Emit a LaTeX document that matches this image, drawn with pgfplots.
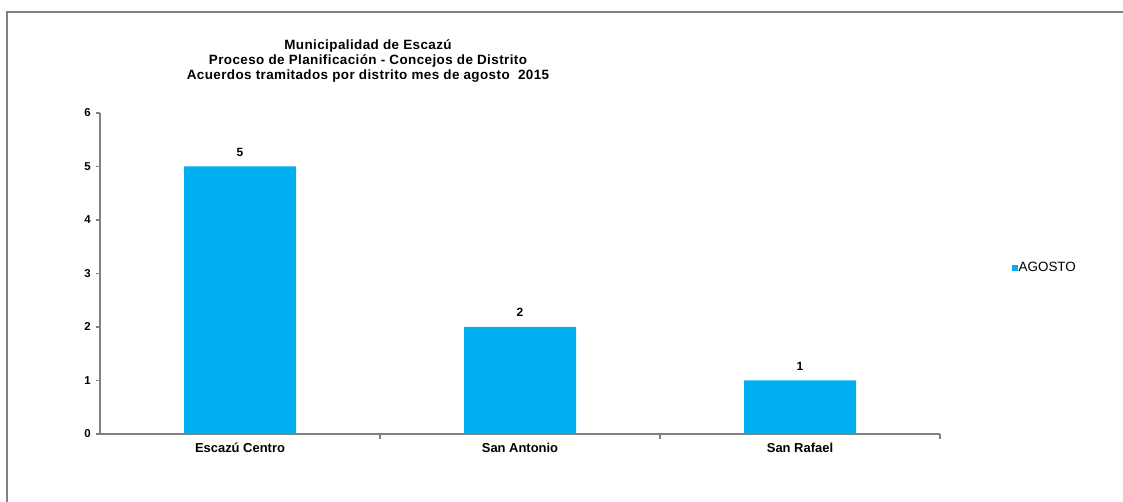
\documentclass[border=0pt]{standalone}
\usepackage{fontspec}
\setmainfont{Liberation Sans}
\newfontfamily\titlefont[LetterSpace=3]{Liberation Sans}
\usepackage{pgfplots}
\pgfplotsset{compat=1.18}
\definecolor{barblue}{HTML}{00B0F0}
\definecolor{axgray}{HTML}{808080}
\begin{document}
\begin{tikzpicture}[x=1bp,y=1bp]
\useasboundingbox (0,0) rectangle (1123,502);
\draw[axgray,line width=1.5bp] (7,0) -- (7,490) -- (1123,490);
\node[align=center,font=\titlefont\fontsize{13.5}{15.5}\selectfont\bfseries] at (368,441)
  {Municipalidad de Escazú\\Proceso de Planificación - Concejos de Distrito\\Acuerdos tramitados por distrito mes de agosto\ \ 2015};
\begin{axis}[
  at={(100bp,68bp)}, anchor=south west,
  scale only axis, width=840bp, height=321bp,
  xmin=-0.5, xmax=2.5, ymin=0, ymax=6,
  axis x line=bottom, axis y line=left,
  axis line style={axgray, line width=1.5bp, -},
  xtick={0,1,2},
  xticklabels={Escazú Centro, San Antonio, San Rafael},
  minor xtick={0.5,1.5,2.5},
  ytick={0,1,2,3,4,5,6},
  tick align=outside,
  major tick length=4bp, minor tick length=5bp,
  tick style={axgray, line width=1.2bp},
  major x tick style={draw=none},
  /pgf/number format/assume math mode=true,
  yticklabel style={font=\fontsize{11.5}{12}\selectfont\bfseries, inner sep=0pt, xshift=-5bp},
  xticklabel style={font=\fontsize{13}{14}\selectfont\bfseries, inner sep=0pt, yshift=-5bp},
  ybar, bar width=112bp,
  nodes near coords,
  nodes near coords style={font=\fontsize{12}{13}\selectfont\bfseries, anchor=south, inner sep=0pt, yshift=10bp, black},
  legend style={draw=none, fill=none, at={(1.085,0.517)}, anchor=west,
    font=\fontsize{13.5}{14}\selectfont, inner sep=0pt,
    nodes={inner sep=1bp}},
  legend image code/.code={\fill[barblue] (0bp,-3bp) rectangle (6bp,3bp);},
]
\addplot[fill=barblue, draw=none] coordinates {(0,5) (1,2) (2,1)};
\addlegendentry{AGOSTO}
\end{axis}
\end{tikzpicture}
\end{document}
